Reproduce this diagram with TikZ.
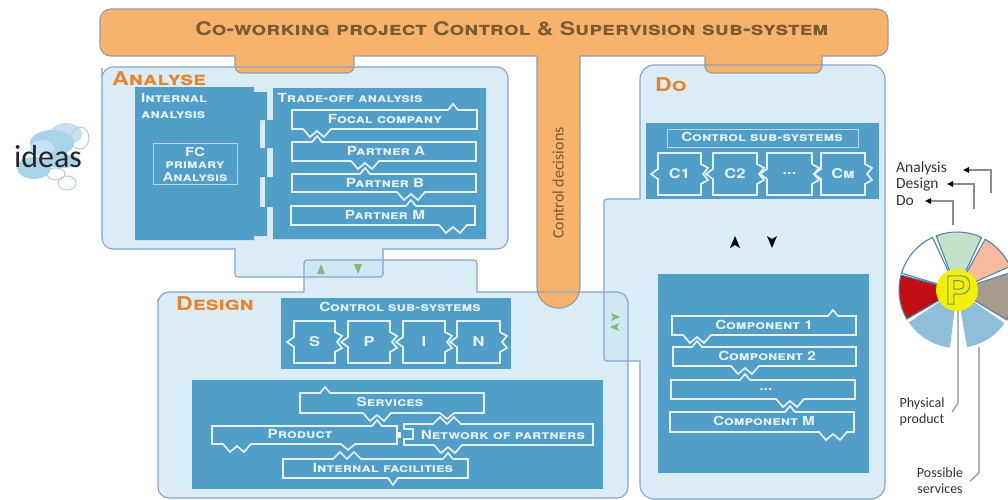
\documentclass[tikz,border=0pt]{standalone}
\usepackage{fontspec}
\setmainfont{Carlito}
\newfontfamily\cop[Letters=SmallCaps,FakeStretch=1.22]{TeX Gyre Heros Bold}
\newfontfamily\plainbold{TeX Gyre Heros Bold}
\definecolor{panel}{HTML}{CBE5F2}
\definecolor{panelline}{HTML}{87A3CC}
\definecolor{orangeF}{HTML}{F7B36C}
\definecolor{orangeL}{HTML}{9A9CA6}
\definecolor{block}{HTML}{519FC9}
\definecolor{lbl}{HTML}{E6F2F8}
\definecolor{head}{HTML}{E8842C}
\definecolor{olive}{HTML}{7A5B32}
\definecolor{garrow}{HTML}{7DBD7D}
\definecolor{sep}{HTML}{4F84AE}
\definecolor{cloudA}{HTML}{A9D3E8}
\definecolor{cloudB}{HTML}{C6E2F0}
\definecolor{cloudR}{HTML}{B5CFDC}
\tikzset{
  panelfill/.style={fill=panel,fill opacity=.7,draw=none},
  panelborder/.style={draw=panelline,line width=1.1pt},
  orangeshape/.style={fill=orangeF,draw=orangeL,line width=1.2pt},
  blockshape/.style={fill=block,draw=none},
  puz/.style={draw=lbl,line width=1.7pt,line join=miter},
  thinbox/.style={draw=lbl!70!block,line width=.8pt},
  sc/.style={text=lbl,font=\cop\fontsize{12.5}{14}\selectfont,inner sep=0pt},
  bigsc/.style={text=lbl,font=\cop\fontsize{13.5}{14}\selectfont,inner sep=0pt},
  headlbl/.style={text=head,font=\cop\fontsize{19}{20}\selectfont,inner sep=0pt,anchor=west},
  side/.style={font=\fontsize{15.5}{16}\selectfont,text=black!80,inner sep=0pt,anchor=west},
  callout/.style={font=\fontsize{14}{16}\selectfont,text=black!80,inner sep=0pt,align=center},
  greyline/.style={draw=black!45,line width=1.1pt},
  tipk/.style={fill=black,draw=none},
  tipg/.style={fill=garrow,draw=none},
  sector/.style={draw=sep,line width=1.1pt},
}
\newcommand\pk[2]{-- ({#1-5},#2) -- (#1,{#2-6}) -- ({#1+5},#2)}
\newcommand\zg[2]{-- ({#1+14},#2) -- ({#1+7},{#2+8}) -- (#1,{#2+2}) -- ({#1-7},{#2+8}) -- ({#1-14},#2)}
\newcommand\vv[2]{-- ({#1+7},#2) -- (#1,{#2+6}) -- ({#1-7},#2)}
\newcommand\piece[6]{%
  \draw[puz] (#1,#3) -- (#2,#3) -- (#2,{(#3+#4)/2-10}) -- ({#2+7},{(#3+#4)/2-6}) -- ({#2+2},{(#3+#4)/2}) -- ({#2+7},{(#3+#4)/2+6}) -- (#2,{(#3+#4)/2+10}) -- (#2,#4) -- (#1,#4) -- (#1,{(#3+#4)/2+5}) -- ({#1-7},{(#3+#4)/2}) -- (#1,{(#3+#4)/2-5}) -- cycle;
  \node[bigsc] (#5) at ({(#1+#2)/2},{(#3+#4)/2}) {#6};}
\begin{document}
\begin{tikzpicture}[x=1pt,y=-1pt]
\clip (0,0) rectangle (1008,499);
\fill[white] (0,0) rectangle (1008,499);

% --- clouds
\fill[cloudB] (66,134) ellipse (16 and 11);
\fill[cloudA] (52,143) ellipse (22 and 13);
\fill[cloudB] (42,148) ellipse (12 and 8);
\fill[cloudA] (34,168) ellipse (17 and 11);
\fill[cloudA] (62,161) ellipse (18 and 7);
\draw[cloudR,line width=1pt] (80,138) ellipse (9 and 11);
\draw[cloudR,line width=1pt] (67,183) ellipse (9 and 7);
\draw[cloudR,line width=1pt] (56,174) ellipse (9 and 6);
\node[inner sep=0pt,font=\fontsize{32}{33}\selectfont,text=black!85] (ideas) at (48,157) {ideas};

% --- panels (fills)
\def\analysepath{(102,79) [rounded corners=11] -- (102,67) -- (508,67) -- (508,249) [sharp corners] -- (383,249) [rounded corners=3] -- (383,277) -- (235,277) [sharp corners] -- (235,249) [rounded corners=11] -- (102,249) -- cycle}
\def\designpath{(158,310) [rounded corners=11] -- (158,292) [sharp corners] -- (304,292) [rounded corners=3] -- (304,260) -- (477,260) [sharp corners] -- (477,292) [rounded corners=11] -- (628,292) -- (628,498) -- (158,498) -- cycle}
\def\dopath{(640,90) [rounded corners=14] -- (640,65) -- (885,65) -- (885,499) -- (640,499) [sharp corners] -- (640,361) [rounded corners=3] -- (604,361) -- (604,199) [sharp corners] -- (640,199) -- cycle}
\path[panelfill] \analysepath;
\path[panelfill] \designpath;
\path[panelfill] \dopath;

% --- orange supervision shape
\draw[orangeshape] (300,9) [rounded corners=11] -- (888,9) -- (888,56) [sharp corners] -- (822,56) [rounded corners=7] -- (822,73) -- (705,73) [sharp corners] -- (705,56) -- (580,56) [rounded corners=21] -- (580,308) -- (537,308) [sharp corners] -- (537,56) -- (354,56) [rounded corners=7] -- (354,73) -- (235,73) [sharp corners] -- (235,56) [rounded corners=11] -- (100,56) -- (100,9) -- cycle;
\node[inner sep=0pt,text=olive,font=\cop\fontsize{18.8}{20}\selectfont] (title) at (512,29) {Co-working project Control \& Supervision sub-system};
\node[inner sep=0pt,text=olive,rotate=90,font=\fontsize{16}{17}\selectfont] (decisions) at (558,183) {Control decisions};

% --- panel borders
\path[panelborder] \analysepath;
\path[panelborder] \designpath;
\path[panelborder] \dopath;

% --- panel headings
\node[headlbl] (analyse) at (112,79) {Analyse};
\node[headlbl] (design) at (176,304) {Design};
\node[headlbl] (do) at (655,85) {Do};

% --- Analyse content
\path[blockshape] (135,87) -- (254,87) -- (254,92) -- (267,92) -- (267,120) -- (260,120) -- (260,148) -- (267,148) -- (267,177) -- (260,177) -- (260,207) -- (267,207) -- (267,236) -- (254,236) -- (254,240) -- (135,240) -- cycle;
\path[blockshape] (273,88) -- (486,88) -- (486,239) -- (273,239) -- (273,207) -- (265,207) -- (265,177) -- (273,177) -- (273,148) -- (265,148) -- (265,120) -- (273,120) -- cycle;
\node[sc,anchor=west,align=left,font=\cop\fontsize{12.5}{16}\selectfont] (internal) at (141,106) {Internal\\analysis};
\draw[thinbox] (153,143) rectangle (237,184);
\node[sc,align=center,font=\cop\fontsize{12.3}{12.5}\selectfont] (fc) at (195,164) {FC\\primary\\Analysis};
\node[sc] (tradeoff) at (350,98) {Trade-off analysis};
\draw[puz] (292,110) \pk{453}{110} -- (477,110) -- (477,129) \zg{317}{129} -- (292,129) -- cycle;
\node[sc] (focal) at (385,119) {Focal company};
\draw[puz] (292,142) \pk{317}{142} -- (476,142) -- (476,161) \zg{365}{161} -- (292,161) -- cycle;
\node[sc] (pa) at (386,151) {Partner A};
\draw[puz] (292,174) \pk{365}{174} -- (476,174) -- (476,192) \zg{411}{192} -- (292,192) -- cycle;
\node[sc] (pb) at (385,183) {Partner B};
\draw[puz] (291,206) \pk{411}{206} -- (475,206) -- (475,225) \zg{453}{225} -- (291,225) -- cycle;
\node[sc] (pm) at (385,215) {Partner M};

% --- Design content
\path[blockshape] (281,298) rectangle (511,369);
\node[sc] (dctl) at (400,307) {Control sub-systems};
\piece{294}{335}{321}{363}{ds}{S}
\piece{348}{390}{321}{363}{dp}{P}
\piece{403}{445}{321}{363}{di}{I}
\piece{457}{500}{321}{363}{dn}{N}
\path[blockshape] (192,380) rectangle (603,489);
\draw[puz] (300,393) \pk{325}{393} -- (484,393) -- (484,413) \vv{447}{413} \zg{377}{413} -- (300,413) -- cycle;
\node[sc] (services) at (390,402) {Services};
\draw[puz] (212,426) \pk{377}{426} -- (397,426) -- (397,444) \vv{348}{444} \zg{237}{444} -- (212,444) -- cycle;
\node[sc] (product) at (300,434) {Product};
\draw[lbl,fill=lbl] (397,432) rectangle (400,437);
\draw[puz] (404,424) -- (433,424) -- (440,417) -- (447,424) -- (454,417) -- (461,424) -- (593,424) -- (593,445) \zg{448}{445} -- (404,445) -- (404,439) -- (413,439) -- (413,429) -- (404,429) -- cycle;
\node[sc] (network) at (503,435) {Network of partners};
\draw[puz] (283,459) -- (333,459) -- (340,452) -- (347,459) -- (354,452) -- (361,459) \pk{448}{459} -- (468,459) -- (468,478) -- (398,478) -- (393,485) -- (388,478) -- (283,478) -- cycle;
\node[sc] (internalf) at (383,468) {Internal facilities};

% --- Do content
\path[blockshape] (646,123) rectangle (879,199);
\draw[thinbox] (667,129) rectangle (858,147);
\node[sc] (cctl) at (762,137) {Control sub-systems};
\piece{658}{701}{153}{195}{c1}{C1}
\piece{713}{757}{153}{195}{c2}{C2}
\piece{767}{812}{153}{195}{cd}{...}
\piece{821}{865}{153}{195}{cm}{Cm}
\path[blockshape] (658,274) rectangle (869,473);
\draw[puz] (672,316) \pk{833}{316} -- (856,316) -- (856,335) \zg{697}{335} -- (672,335) -- cycle;
\node[sc] (comp1) at (764,325) {Component 1};
\draw[puz] (673,347) \pk{697}{347} -- (856,347) -- (856,366) \zg{745}{366} -- (673,366) -- cycle;
\node[sc] (comp2) at (767,356) {Component 2};
\draw[puz] (671,380) \pk{745}{380} -- (855,380) -- (855,399) \zg{790}{399} -- (671,399) -- cycle;
\node[sc] (compd) at (766,390) {...};
\draw[puz] (670,412) \pk{790}{412} -- (854,412) -- (854,432) \zg{833}{432} -- (670,432) -- cycle;
\node[sc] (compm) at (764,421) {Component M};

% --- arrowheads
\path[tipk] (735,236) -- (740,248) -- (735,245) -- (730,248) -- cycle;
\path[tipk] (772,248) -- (767,236) -- (772,239) -- (777,236) -- cycle;
\path[tipg] (321,264) -- (325,274) -- (317,274) -- cycle;
\path[tipg] (358,274) -- (354,264) -- (362,264) -- cycle;
\path[tipg] (620,317) -- (611,313) -- (613,317) -- (611,321) -- cycle;
\path[tipg] (610,327) -- (619,323) -- (617,327) -- (619,331) -- cycle;

% --- legend
\node[side] (lanalysis) at (896,168) {Analysis};
\node[side] (ldesign) at (896,184) {Design};
\node[side] (ldo) at (896,201) {Do};
\coordinate (a0) at (991,193); \coordinate (a1) at (991,170); \coordinate (a2) at (968,170);
\coordinate (b0) at (974,209); \coordinate (b1) at (974,184); \coordinate (b2) at (952,184);
\coordinate (c0) at (953,225); \coordinate (c1a) at (953,201); \coordinate (c2a) at (930,201);
\draw[greyline] (a0) -- (a1) -- (a2);
\draw[greyline] (b0) -- (b1) -- (b2);
\draw[greyline] (c0) -- (c1a) -- (c2a);
\path[tipk] (963,170) -- (969,167) -- (969,173) -- cycle;
\path[tipk] (947,184) -- (953,181) -- (953,187) -- cycle;
\path[tipk] (925,201) -- (931,198) -- (931,204) -- cycle;

% --- pie
\begin{scope}[shift={(957,290)},y=1pt]
\foreach \a/\b/\col/\ln in {111/65/C5E2C8/sep,61/24/F8B99C/sep,18/-31/A59C8C/sep,-35/-80/8FBEDA/none,-97/-146/8FBEDA/none,-150/-195/C00F14/sep,-197/-245/FFFFFF/sep}{
  \definecolor{slice}{HTML}{\col}
  \draw[sector,fill=slice,draw=\ln] (\a:20pt) -- (\a:58pt) arc[start angle=\a,end angle=\b,radius=58pt] -- (\b:20pt) -- cycle;
}
\end{scope}
\fill[yellow!95!green] (957,290) circle (21);
\node[inner sep=0pt,font=\plainbold\fontsize{39}{39}\selectfont] (pp) at (958,290) {\special{pdf:code 0.42 0.6 0.42 RG 1 Tr 1 w}P\special{pdf:code 0 Tr 0 0 0 RG}};
\node[callout] (phys) at (922,412) {Physical\\product};
\node[callout] (poss) at (940,481) {Possible\\services};
\draw[greyline] (958,311) -- (958,403) -- (952,412);
\draw[greyline] (979,347) -- (979,473) -- (970,481);
\end{tikzpicture}
\end{document}
